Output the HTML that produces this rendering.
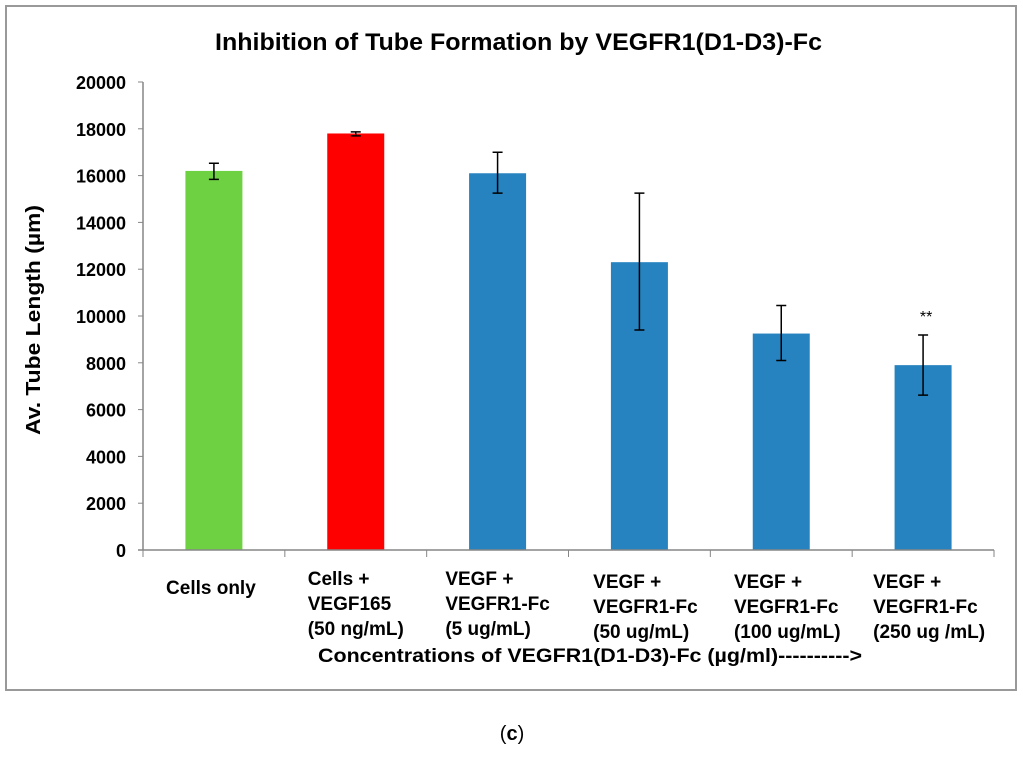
<!DOCTYPE html>
<html><head><meta charset="utf-8"><style>
body{margin:0;background:#fff;width:1024px;height:754px;overflow:hidden;font-family:"Liberation Sans",Arial,sans-serif}
svg text{font-family:"Liberation Sans",Arial,sans-serif}
</style></head><body>
<svg id="chart" width="1024" height="754">
<rect x="6" y="6" width="1010" height="684" fill="#fff" stroke="#999" stroke-width="2"/>
<text x="215" y="50" textLength="607" lengthAdjust="spacingAndGlyphs" font-size="24" font-weight="bold">Inhibition of Tube Formation by VEGFR1(D1-D3)-Fc</text>
<text transform="translate(40,320) rotate(-90)" text-anchor="middle" textLength="230" lengthAdjust="spacingAndGlyphs" font-size="20" font-weight="bold">Av. Tube Length (µm)</text>
<text x="318" y="662" textLength="544" lengthAdjust="spacingAndGlyphs" font-size="19" font-weight="bold">Concentrations of VEGFR1(D1-D3)-Fc (µg/ml)----------&gt;</text>
<text x="512" y="740" text-anchor="middle" font-size="20" font-family="Liberation Serif">(<tspan font-weight="bold">c</tspan>)</text>
<g id="plot"></g>
</svg>
<script>
const categories=[["Cells only"],["Cells +","VEGF165","(50 ng/mL)"],["VEGF +","VEGFR1-Fc","(5 ug/mL)"],["VEGF +","VEGFR1-Fc","(50 ug/mL)"],["VEGF +","VEGFR1-Fc","(100 ug/mL)"],["VEGF +","VEGFR1-Fc","(250 ug /mL)"]];
const values=[16200,17800,16100,12300,9250,7900];
const errUp=[330,70,900,2950,1200,1290];
const errDown=[360,100,850,2900,1150,1280];
const colors=["#6dd142","#ff0000","#2683c0","#2683c0","#2683c0","#2683c0"];
const yTicks=[0,2000,4000,6000,8000,10000,12000,14000,16000,18000,20000];
const x0=143,x1=994,y0=550,y1=82,yMax=20000;
const n=categories.length,cw=(x1-x0)/n,bw=57;
const ys=v=>y0-(v/yMax)*(y0-y1);
const xc=i=>x0+cw*(i+0.5);
const g=document.getElementById('plot');
const NS="http://www.w3.org/2000/svg";
function mk(t,a){const e=document.createElementNS(NS,t);for(const k in a)e.setAttribute(k,a[k]);g.appendChild(e);return e;}
let ax=mk('line',{x1:x0,y1:y1,x2:x0,y2:y0,stroke:'#868686','stroke-width':1.5});


yTicks.forEach(v=>{
 let t=mk('line',{x1:x0-5,y1:ys(v),x2:x0,y2:ys(v),stroke:'#868686'});
 
 
 let l=mk('text',{x:x0-17,y:ys(v)+7,'text-anchor':'end','font-size':18,'font-weight':'bold'});
 l.textContent=v;
 
 
});
values.forEach((v,i)=>{
 let b=mk('rect',{x:xc(i)-bw/2,y:ys(v),width:bw,height:y0-ys(v),fill:colors[i]});
 
 
 const ey1=ys(v+errUp[i]),ey2=ys(v-errDown[i]);
 let e=mk('path',{d:`M${xc(i)},${ey1}V${ey2}M${xc(i)-5},${ey1}h10M${xc(i)-5},${ey2}h10`,stroke:'#000','stroke-width':1.5,fill:'none'});
 
 
 const lines=[];
 categories[i].forEach((s,j)=>{
  let t=mk('text',{x:0,y:(categories[i].length==1?594:(i>=3?588:585))+j*25,'font-size':19,'font-weight':'bold'});
  t.textContent=s;
  
  
  lines.push(t);
 });
 let w=0;lines.forEach(t=>{w=Math.max(w,t.getComputedTextLength());});
 const left=xc(i)-w/2+(i>=3?6:(i==0?-3:0));
 lines.forEach(t=>t.setAttribute('x',left));
});
let xa=mk('line',{x1:x0-5,y1:y0,x2:x1,y2:y0,stroke:'#868686','stroke-width':1.5});


for(let i=0;i<=n;i++){
 let t=mk('line',{x1:x0+cw*i,y1:y0,x2:x0+cw*i,y2:y0+7,stroke:'#868686'});
 
 
}
let s=mk('text',{x:xc(5)+3,y:ys(values[5]+errUp[5])-13,'text-anchor':'middle','font-size':16});
s.textContent='**';


</script>
</body></html>
